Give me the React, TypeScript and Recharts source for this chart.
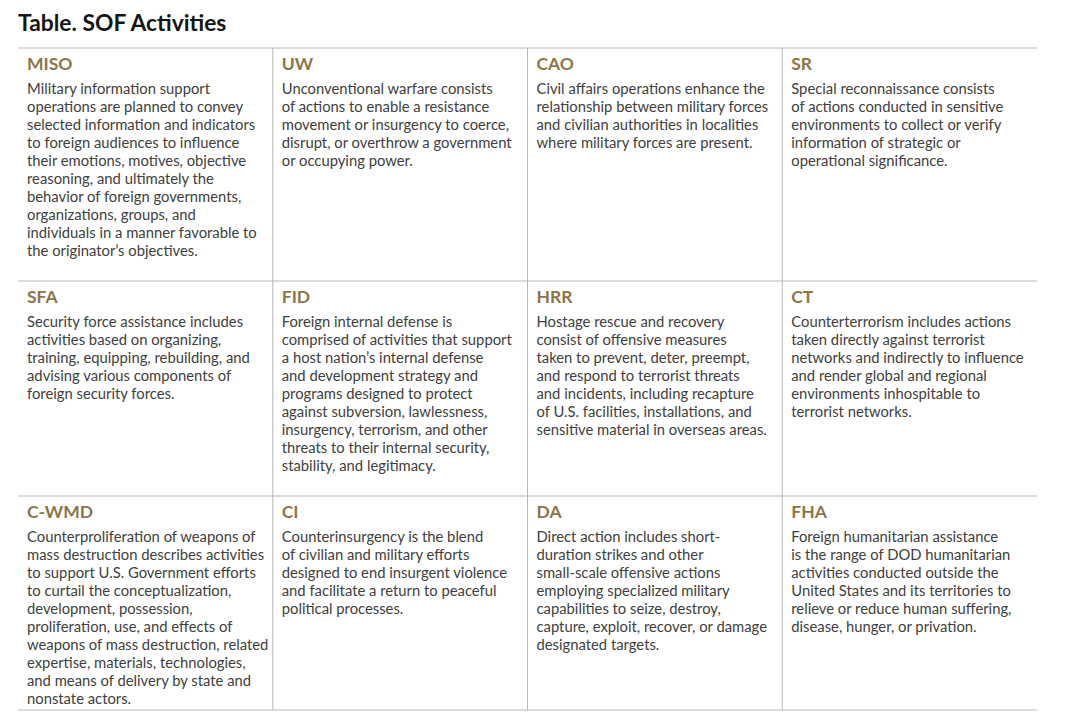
import React from 'react';
import { ScatterChart, Scatter, XAxis, YAxis, ReferenceLine, Customized } from 'recharts';

const tableTitle = 'Table. SOF Activities';

const activityCodes = ['MISO', 'UW', 'CAO', 'SR', 'SFA', 'FID', 'HRR', 'CT', 'C-WMD', 'CI', 'DA', 'FHA'];

const activityLines: string[][] = [
  [
    'Military information support',
    'operations are planned to convey',
    'selected information and indicators',
    'to foreign audiences to influence',
    'their emotions, motives, objective',
    'reasoning, and ultimately the',
    'behavior of foreign governments,',
    'organizations, groups, and',
    'individuals in a manner favorable to',
    'the originator\u2019s objectives.',
  ],
  [
    'Unconventional warfare consists',
    'of actions to enable a resistance',
    'movement or insurgency to coerce,',
    'disrupt, or overthrow a government',
    'or occupying power.',
  ],
  [
    'Civil affairs operations enhance the',
    'relationship between military forces',
    'and civilian authorities in localities',
    'where military forces are present.',
  ],
  [
    'Special reconnaissance consists',
    'of actions conducted in sensitive',
    'environments to collect or verify',
    'information of strategic or',
    'operational significance.',
  ],
  [
    'Security force assistance includes',
    'activities based on organizing,',
    'training, equipping, rebuilding, and',
    'advising various components of',
    'foreign security forces.',
  ],
  [
    'Foreign internal defense is',
    'comprised of activities that support',
    'a host nation\u2019s internal defense',
    'and development strategy and',
    'programs designed to protect',
    'against subversion, lawlessness,',
    'insurgency, terrorism, and other',
    'threats to their internal security,',
    'stability, and legitimacy.',
  ],
  [
    'Hostage rescue and recovery',
    'consist of offensive measures',
    'taken to prevent, deter, preempt,',
    'and respond to terrorist threats',
    'and incidents, including recapture',
    'of U.S. facilities, installations, and',
    'sensitive material in overseas areas.',
  ],
  [
    'Counterterrorism includes actions',
    'taken directly against terrorist',
    'networks and indirectly to influence',
    'and render global and regional',
    'environments inhospitable to',
    'terrorist networks.',
  ],
  [
    'Counterproliferation of weapons of',
    'mass destruction describes activities',
    'to support U.S. Government efforts',
    'to curtail the conceptualization,',
    'development, possession,',
    'proliferation, use, and effects of',
    'weapons of mass destruction, related',
    'expertise, materials, technologies,',
    'and means of delivery by state and',
    'nonstate actors.',
  ],
  [
    'Counterinsurgency is the blend',
    'of civilian and military efforts',
    'designed to end insurgent violence',
    'and facilitate a return to peaceful',
    'political processes.',
  ],
  [
    'Direct action includes short-',
    'duration strikes and other',
    'small-scale offensive actions',
    'employing specialized military',
    'capabilities to seize, destroy,',
    'capture, exploit, recover, or damage',
    'designated targets.',
  ],
  [
    'Foreign humanitarian assistance',
    'is the range of DOD humanitarian',
    'activities conducted outside the',
    'United States and its territories to',
    'relieve or reduce human suffering,',
    'disease, hunger, or privation.',
  ],
];

// layout (not data)
const COLS = 4;
const ROW_EDGES = [0, 233, 448, 662];
const BODY_FONT = 'Lato, "Noto Sans", sans-serif';
const GOLD = '#8c7649';
const TEXT = '#404040';
const RULE = '#b9b9b9';

const cells = activityCodes.map((code, i) => ({
  col: i % COLS,
  top: ROW_EDGES[Math.floor(i / COLS)],
  code,
  lines: activityLines[i],
}));

const CellShape = (props: any) => {
  const { cx, cy, payload } = props;
  if (cx == null || cy == null || !payload) return null;
  const x = cx + 9;
  return (
    <g>
      <text x={x} y={cy + 22.3} fill={GOLD} fontFamily={BODY_FONT} fontWeight={700} fontSize={17.5}>
        {payload.code}
      </text>
      {payload.lines.map((ln: string, k: number) => (
        <text key={k} x={x} y={cy + 45.8 + k * 18} fill={TEXT} fontFamily={BODY_FONT} fontWeight={400} fontSize={14.8}>
          {ln}
        </text>
      ))}
    </g>
  );
};

const Title = () => (
  <text x={10} y={23} fill="#151515" fontFamily={BODY_FONT} fontWeight={700} fontSize={22.8}>
    {tableTitle}
  </text>
);

export default function App() {
  return (
    <div style={{ width: 1072, height: 711 }}>
      <ScatterChart width={1072} height={711} margin={{ top: 40, right: 43, left: 10, bottom: 9 }}>
        <XAxis type="number" dataKey="col" domain={[0, COLS]} hide allowDataOverflow />
        <YAxis type="number" dataKey="top" domain={[0, ROW_EDGES[ROW_EDGES.length - 1]]} reversed hide allowDataOverflow />
        {ROW_EDGES.map((y) => (
          <ReferenceLine key={'h' + y} y={y} stroke={RULE} strokeWidth={1} ifOverflow="extendDomain" />
        ))}
        {[1, 2, 3].map((x) => (
          <ReferenceLine key={'v' + x} x={x} stroke={RULE} strokeWidth={1} />
        ))}
        <Scatter data={cells} shape={<CellShape />} isAnimationActive={false} />
        <Customized component={<Title />} />
      </ScatterChart>
    </div>
  );
}
